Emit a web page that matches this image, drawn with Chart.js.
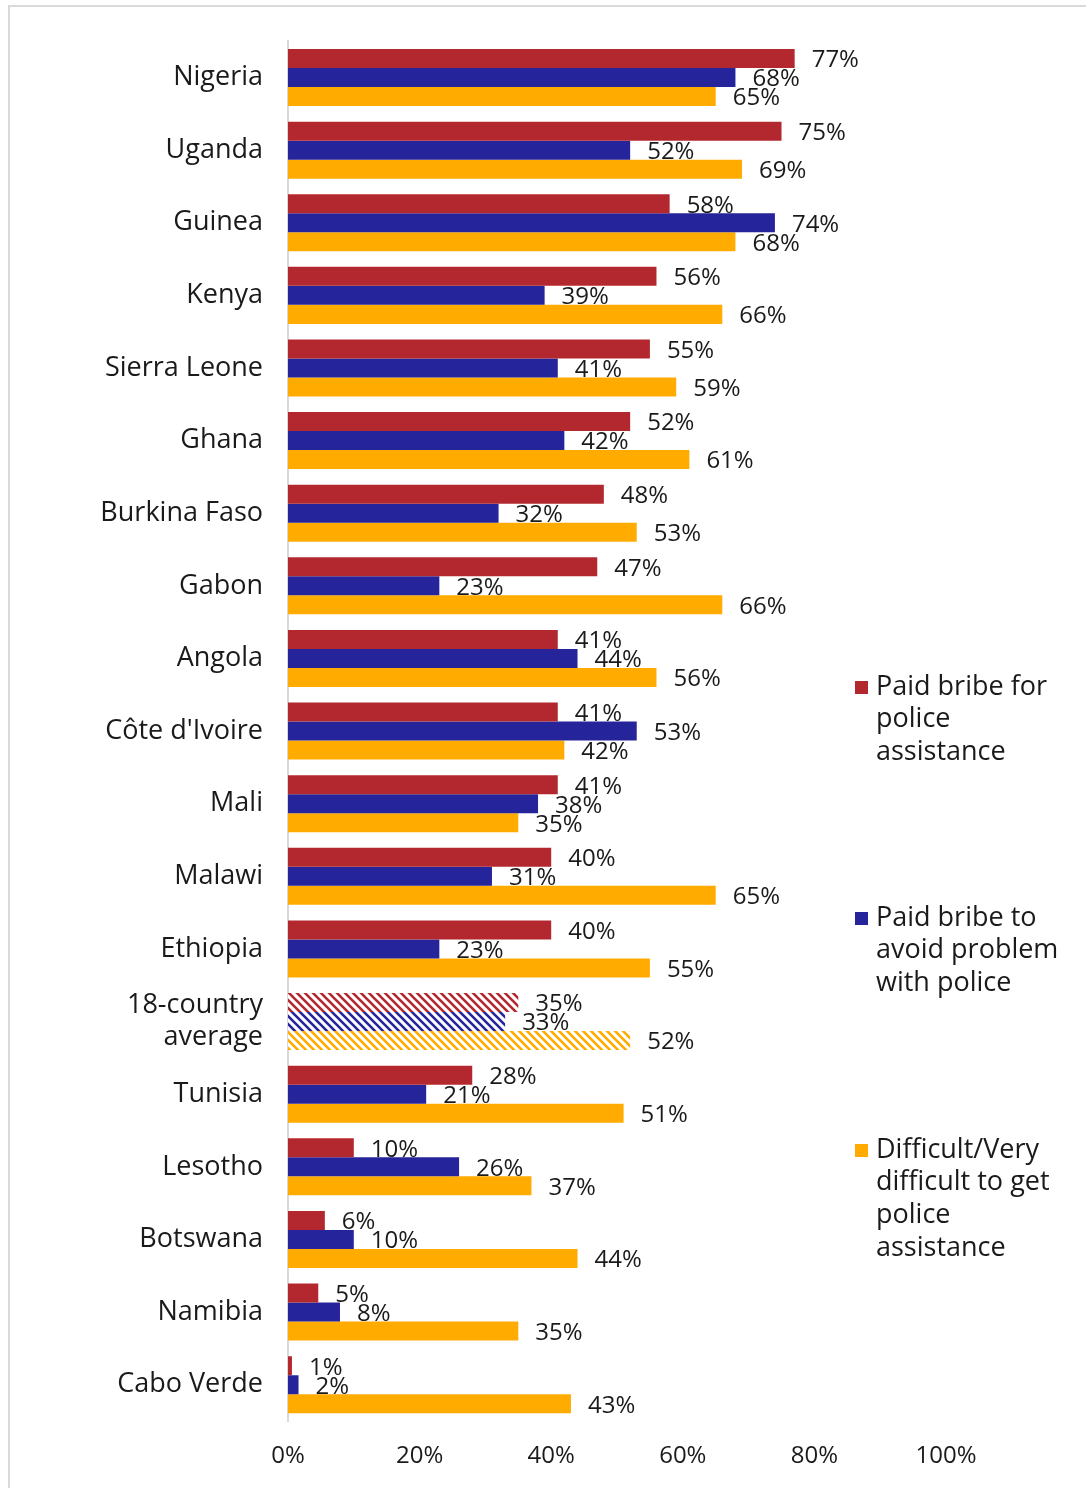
<!DOCTYPE html>
<html>
<head>
<meta charset="utf-8">
<script src="https://cdn.jsdelivr.net/npm/chart.js@4"></script>
<style>
  html, body { margin: 0; padding: 0; background: #fff; }
  #wrap { position: relative; width: 1086px; height: 1488px; overflow: hidden; }
  #frame { position: absolute; left: 8px; top: 5px; width: 1100px; height: 1500px; border: 2px solid #d9d9d9; box-sizing: border-box; }
  #c { position: absolute; left: 0; top: 0; }
</style>
</head>
<body>
<div id="wrap">
  <div id="frame"></div>
  <canvas id="c" width="1086" height="1488"></canvas>
</div>
<script>
// ── data ──
const countries = ['Nigeria','Uganda','Guinea','Kenya','Sierra Leone','Ghana','Burkina Faso','Gabon','Angola',
  "Côte d'Ivoire",'Mali','Malawi','Ethiopia',['18-country','average'],'Tunisia','Lesotho','Botswana','Namibia','Cabo Verde'];
const paidForAssistance = [77,75,58,56,55,52,48,47,41,41,41,40,40,35,28,10,5.6,4.6,0.6];
const paidToAvoid       = [68,52,74,39,41,42,32,23,44,53,38,31,23,33,21,26,10,7.9,1.6];
const difficultToGet    = [65,69,68,66,59,61,53,66,56,42,35,65,55,52,51,37,44,35,43];
const seriesNames = ['Paid bribe for police assistance','Paid bribe to avoid problem with police','Difficult/Very difficult to get police assistance'];
const legendLines = [['Paid bribe for','police','assistance'],['Paid bribe to','avoid problem','with police'],['Difficult/Very','difficult to get','police','assistance']];
const xTicks = [0,20,40,60,80,100];
const avgIndex = 13;

const RED = '#b3282e', BLUE = '#26249b', ORANGE = '#ffab00';
const FONT = "'Open Sans', sans-serif";

// hatched fill for the 18-country average bars
function hatch(color) {
  const t = document.createElement('canvas');
  t.width = 8; t.height = 8;
  const g = t.getContext('2d');
  g.fillStyle = '#fff';
  g.fillRect(0, 0, 8, 8);
  g.strokeStyle = color;
  g.lineWidth = 2.6;
  g.beginPath();
  g.moveTo(-2, -2); g.lineTo(10, 10);
  g.moveTo(-6, 2); g.lineTo(2, 10);
  g.moveTo(6, -2); g.lineTo(10, 2);
  g.stroke();
  return g.createPattern(t, 'repeat');
}
function fills(color) {
  const p = hatch(color);
  return countries.map((c, i) => i === avgIndex ? p : color);
}

// value labels at the bar ends
const valueLabels = {
  id: 'valueLabels',
  afterDatasetsDraw(chart) {
    const ctx = chart.ctx;
    ctx.save();
    ctx.font = '24px ' + FONT;
    ctx.fillStyle = '#1a1a1a';
    ctx.textAlign = 'left';
    ctx.textBaseline = 'middle';
    chart.data.datasets.forEach((ds, di) => {
      chart.getDatasetMeta(di).data.forEach((bar, i) => {
        ctx.fillText(Math.round(ds.data[i]) + '%', bar.x + 17, bar.y + 2);
      });
    });
    ctx.restore();
  }
};

// legend on the right, wrapped like the original
const sideLegend = {
  id: 'sideLegend',
  afterDraw(chart) {
    const ctx = chart.ctx;
    const colors = [RED, BLUE, ORANGE];
    const tops = [687, 918, 1150];
    ctx.save();
    ctx.font = '27px ' + FONT;
    ctx.textAlign = 'left';
    ctx.textBaseline = 'middle';
    legendLines.forEach((lines, k) => {
      ctx.fillStyle = colors[k];
      ctx.fillRect(855, tops[k] - 6, 13, 13);
      ctx.fillStyle = '#1a1a1a';
      lines.forEach((ln, j) => ctx.fillText(ln, 876, tops[k] + j * 32.7));
    });
    ctx.restore();
  }
};

new Chart(document.getElementById('c').getContext('2d'), {
  type: 'bar',
  data: {
    labels: countries,
    datasets: [
      { label: seriesNames[0], data: paidForAssistance, backgroundColor: fills(RED) },
      { label: seriesNames[1], data: paidToAvoid, backgroundColor: fills(BLUE) },
      { label: seriesNames[2], data: difficultToGet, backgroundColor: fills(ORANGE) }
    ]
  },
  options: {
    indexAxis: 'y',
    responsive: false,
    animation: false,
    layout: { padding: { top: 41, right: 140, left: 0, bottom: 0 } },
    datasets: { bar: { categoryPercentage: 0.785, barPercentage: 1, borderWidth: 0 } },
    plugins: { legend: { display: false }, tooltip: { enabled: false } },
    scales: {
      x: {
        min: 0, max: 100,
        afterBuildTicks: s => { s.ticks = xTicks.map(v => ({ value: v })); },
        afterFit: s => { s.height = 67; },
        grid: { display: false },
        border: { display: false },
        ticks: { padding: 13, color: '#1a1a1a', font: { family: FONT, size: 24 }, callback: v => v + '%' }
      },
      y: {
        afterFit: s => { s.width = 288; },
        grid: { display: true, drawOnChartArea: false, drawTicks: false },
        border: { display: true, color: '#d9d9d9', width: 2 },
        ticks: { padding: 25, color: '#1a1a1a', font: { family: FONT, size: 27, lineHeight: 1.2 } }
      }
    }
  },
  plugins: [valueLabels, sideLegend]
});
</script>
</body>
</html>
